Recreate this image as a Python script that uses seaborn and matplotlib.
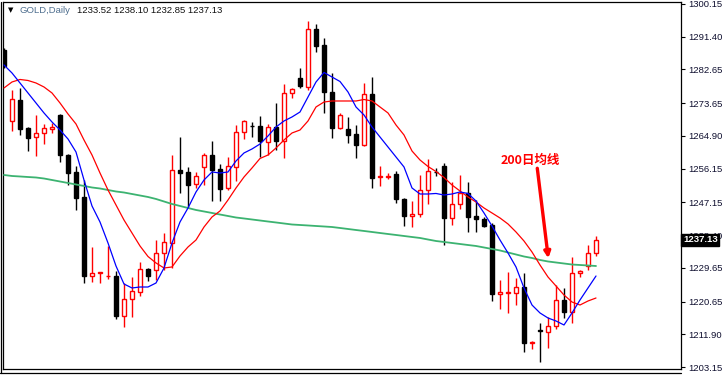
import numpy as np
import pandas as pd
import matplotlib
matplotlib.use("Agg")
import matplotlib.pyplot as plt
import matplotlib.transforms as mtransforms
import seaborn as sns

# ---------------- data (GOLD, Daily) ----------------
opens = [1287.86, 1268.89, 1274.50, 1267.02, 1264.61, 1265.68, 1266.88, 1270.49, 1259.80, 1255.26,
         1248.58, 1227.47, 1228.14, 1227.34, 1227.47, 1216.78, 1221.33, 1223.20, 1229.34, 1229.07,
         1233.62, 1236.29, 1255.79, 1255.26, 1252.05, 1256.60, 1259.80, 1256.06, 1250.99, 1256.60,
         1265.95, 1267.55, 1267.55, 1263.28, 1267.28, 1263.54, 1276.37, 1280.38, 1277.97, 1293.47,
         1289.19, 1276.64, 1267.02, 1266.75, 1265.41, 1262.47, 1276.10, 1253.84, 1253.93, 1254.73,
         1248.05, 1243.50, 1244.04, 1250.45, 1255.26, 1256.86, 1242.97, 1246.71, 1249.65, 1243.50,
         1242.70, 1241.10, 1222.66, 1223.01, 1223.01, 1224.53, 1209.49, 1213.04, 1212.51, 1214.11,
         1221.06, 1217.85, 1228.27, 1230.14, 1233.52]
highs = [1288.39, 1277.17, 1277.71, 1267.28, 1270.49, 1268.09, 1268.35, 1270.76, 1260.07, 1256.86,
         1253.12, 1235.22, 1228.54, 1235.49, 1228.81, 1225.60, 1227.20, 1231.21, 1229.61, 1237.09,
         1238.96, 1259.80, 1264.61, 1256.60, 1255.26, 1260.34, 1263.54, 1257.40, 1259.27, 1267.82,
         1269.16, 1268.62, 1270.22, 1268.09, 1273.70, 1278.77, 1277.71, 1283.05, 1295.61, 1294.81,
         1291.07, 1281.71, 1271.03, 1269.96, 1267.82, 1279.04, 1280.64, 1256.86, 1254.99, 1255.53,
         1248.31, 1247.51, 1254.46, 1258.73, 1256.33, 1257.67, 1252.59, 1254.46, 1252.59, 1247.78,
         1243.24, 1241.63, 1226.40, 1228.54, 1226.94, 1228.27, 1209.97, 1214.91, 1216.52, 1225.07,
         1224.27, 1232.55, 1229.07, 1235.75, 1238.10]
lows = [1283.05, 1266.22, 1265.15, 1260.87, 1259.54, 1262.74, 1265.68, 1257.93, 1251.79, 1245.11,
        1225.60, 1225.87, 1225.60, 1226.67, 1215.98, 1213.84, 1216.52, 1222.13, 1226.14, 1226.40,
        1229.07, 1229.61, 1249.65, 1245.64, 1250.99, 1251.79, 1247.51, 1247.51, 1250.45, 1252.86,
        1264.08, 1264.61, 1259.27, 1259.80, 1261.14, 1259.00, 1275.03, 1277.71, 1277.17, 1287.32,
        1271.03, 1264.35, 1266.88, 1263.01, 1259.00, 1262.20, 1250.99, 1251.52, 1253.39, 1246.98,
        1240.83, 1240.56, 1243.24, 1246.71, 1254.19, 1235.75, 1241.10, 1245.37, 1239.23, 1239.23,
        1240.56, 1220.79, 1218.65, 1217.59, 1219.72, 1207.16, 1207.97, 1204.49, 1208.23, 1213.31,
        1216.25, 1214.91, 1227.20, 1229.07, 1232.85]
closes = [1283.58, 1274.77, 1266.75, 1264.35, 1265.68, 1267.02, 1267.28, 1259.80, 1254.99, 1248.31,
          1227.47, 1228.27, 1228.46, 1227.55, 1216.78, 1221.33, 1223.46, 1229.34, 1227.47, 1233.62,
          1236.56, 1255.79, 1254.99, 1251.79, 1254.19, 1259.80, 1255.79, 1250.72, 1256.86, 1265.95,
          1268.89, 1267.42, 1263.54, 1267.28, 1263.54, 1276.37, 1277.44, 1278.24, 1293.47, 1288.93,
          1276.64, 1267.02, 1270.49, 1265.15, 1262.47, 1276.10, 1253.66, 1254.19, 1254.32, 1248.05,
          1243.50, 1244.04, 1250.45, 1255.53, 1255.26, 1242.97, 1246.71, 1249.65, 1243.24, 1242.57,
          1240.83, 1222.66, 1223.20, 1223.20, 1224.45, 1209.57, 1209.76, 1212.78, 1214.11, 1221.06,
          1217.85, 1228.27, 1228.81, 1233.62, 1237.13]
ma_fast = [1283.85, 1281.71, 1279.04, 1276.37, 1273.70, 1271.03, 1268.62, 1266.48, 1264.08, 1260.60,
           1253.12, 1246.18, 1241.90, 1236.29, 1230.14, 1225.33, 1224.27, 1224.53, 1224.53, 1225.60,
           1229.61, 1236.29, 1241.90, 1245.64, 1249.92, 1253.12, 1255.26, 1254.99, 1255.26, 1258.20,
           1260.34, 1261.41, 1262.74, 1264.88, 1267.28, 1268.89, 1269.96, 1271.29, 1275.30, 1279.31,
           1281.85, 1280.64, 1279.44, 1276.64, 1272.63, 1270.49, 1267.28, 1264.61, 1261.94, 1259.27,
           1256.60, 1250.99, 1249.38, 1249.38, 1249.52, 1249.11, 1249.38, 1249.92, 1249.52, 1247.51,
           1244.31, 1240.83, 1237.09, 1233.62, 1229.88, 1224.27, 1219.72, 1217.59, 1216.25, 1215.45,
           1214.38, 1217.59, 1221.06, 1224.27, 1227.47]
ma_slow = [1277.71, 1279.31, 1279.98, 1279.71, 1279.04, 1277.97, 1276.37, 1273.70, 1270.76, 1268.09,
           1263.81, 1259.80, 1254.99, 1250.45, 1246.44, 1242.43, 1238.96, 1235.49, 1232.68, 1230.95,
           1229.61, 1229.88, 1232.82, 1235.22, 1237.09, 1240.56, 1243.24, 1244.84, 1247.78, 1250.99,
           1253.92, 1256.33, 1258.87, 1259.80, 1261.67, 1263.81, 1265.68, 1266.48, 1268.89, 1272.63,
           1273.96, 1274.23, 1274.23, 1274.23, 1274.23, 1274.63, 1274.23, 1272.63, 1271.03, 1267.82,
           1265.15, 1260.87, 1258.47, 1256.73, 1255.39, 1253.79, 1251.79, 1250.18, 1248.58, 1247.24,
           1245.64, 1244.31, 1242.97, 1241.37, 1239.23, 1236.82, 1233.88, 1230.41, 1227.20, 1224.80,
           1222.39, 1220.52, 1219.72, 1220.79, 1221.59]
ma_200 = [1254.46, 1254.19, 1254.06, 1253.92, 1253.79, 1253.52, 1253.12, 1252.72, 1252.32, 1251.92,
          1251.52, 1251.12, 1250.85, 1250.45, 1250.05, 1249.78, 1249.38, 1248.98, 1248.58, 1248.05,
          1247.38, 1246.71, 1246.18, 1245.64, 1245.11, 1244.71, 1244.31, 1243.90, 1243.50, 1243.10,
          1242.84, 1242.57, 1242.30, 1242.03, 1241.77, 1241.50, 1241.23, 1241.10, 1240.97, 1240.83,
          1240.70, 1240.56, 1240.30, 1240.03, 1239.76, 1239.50, 1239.23, 1238.96, 1238.69, 1238.43,
          1238.16, 1237.89, 1237.63, 1237.22, 1236.82, 1236.56, 1236.29, 1236.02, 1235.75, 1235.49,
          1235.09, 1234.69, 1234.29, 1233.75, 1233.22, 1232.68, 1232.28, 1231.75, 1231.35, 1231.08,
          1230.81, 1230.54, 1230.41, 1230.28, 1230.14]
y_ticks = [1300.15, 1291.40, 1282.65, 1273.65, 1264.90, 1256.15, 1247.15, 1238.40,
           1229.65, 1220.65, 1211.90, 1203.15]
y_tick_labels = ["1300.15", "1291.40", "1282.65", "1273.65", "1264.90", "1256.15", "1247.15",
                 "1238.40", "1229.65", "1220.65", "1211.90", "1203.15"]
symbol = "GOLD,Daily"
last_ohlc = "1233.52 1238.10 1232.85 1237.13"
last_price = 1237.13
note_text = "200日均线"

# ---------------- style ----------------
sns.set_style("white")
plt.rcParams["font.family"] = ["Liberation Sans", "DejaVu Sans"]

W, H = 722, 375
fig = plt.figure(figsize=(W / 100, H / 100), dpi=100)
ax = fig.add_axes([3 / W, 6 / H, 678 / W, 367 / H])

n = len(closes)
x = np.arange(n)
o = np.array(opens); c = np.array(closes)
hi = np.array(highs); lo = np.array(lows)
up = c > o
edge = np.where(up, "#ff0000", "#000000")
face = np.where(up, "#ffffff", "#000000")

ax.vlines(x, lo, hi, colors=edge, linewidth=1.0, zorder=2)
ax.bar(x, np.abs(c - o), bottom=np.minimum(o, c), width=0.58, color=face,
       edgecolor=edge, linewidth=1.0, zorder=3)

df = pd.DataFrame({"i": x, "fast": ma_fast, "slow": ma_slow, "ma200": ma_200})
sns.lineplot(data=df, x="i", y="ma200", color="#3cb371", linewidth=1.3, ax=ax, zorder=4)
sns.lineplot(data=df, x="i", y="slow", color="#ff0000", linewidth=0.9, ax=ax, zorder=5)
sns.lineplot(data=df, x="i", y="fast", color="#0000ff", linewidth=0.9, ax=ax, zorder=6)

ax.set_xlim(-0.125, 84.625)
ax.set_ylim(1202.62, 1300.68)
ax.set_xticks([])
ax.set_xlabel("")
ax.set_ylabel("")
ax.yaxis.tick_right()
ax.set_yticks(y_ticks)
ax.set_yticklabels(y_tick_labels)
ax.tick_params(axis="y", which="both", right=True, left=False, direction="out",
               length=3, width=0.8, pad=2, labelsize=6.8, labelcolor="#101030", color="black")
for s in ax.spines.values():
    s.set_color("black")
    s.set_linewidth(0.9)

# current price box
trans = mtransforms.blended_transform_factory(ax.transAxes, ax.transData)
ax.text(1.003, last_price, f"{last_price:.2f}", transform=trans, ha="left", va="center",
        color="white", fontsize=6.8, fontweight="bold", zorder=10, clip_on=False,
        bbox=dict(boxstyle="square,pad=0.18", fc="black", ec="black"))

# annotation
ax.text(65.8, 1258.33, note_text, color="#ff0000", fontsize=9, fontweight="bold",
        family=["Noto Sans CJK SC", "DejaVu Sans"], ha="center", va="center", zorder=8)
ax.annotate("", xy=(68.04, 1232.2), xytext=(66.66, 1256.25),
            arrowprops=dict(arrowstyle="-|>", color="#ff0000", lw=2.4, mutation_scale=9,
                            shrinkA=0, shrinkB=0), zorder=8)

# title
fig.text(7.5 / W, 1 - 10.5 / H, "▼", fontsize=5, color="black", va="center", ha="left",
         family=["DejaVu Sans"])
fig.text(19 / W, 1 - 10.5 / H, symbol, fontsize=6.8, color="#4f6f8f", va="center", ha="left")
fig.text(77 / W, 1 - 10.5 / H, last_ohlc, fontsize=6.8, color="#111111", va="center", ha="left")

# extra window borders
fig.add_artist(plt.Line2D([0, 681 / W], [2.5 / H, 2.5 / H], color="black", lw=0.9))
fig.add_artist(plt.Line2D([0.6 / W, 0.6 / W], [2.5 / H, 1 - 1.5 / H], color="black", lw=0.9))

fig.savefig("out.png", dpi=100)
